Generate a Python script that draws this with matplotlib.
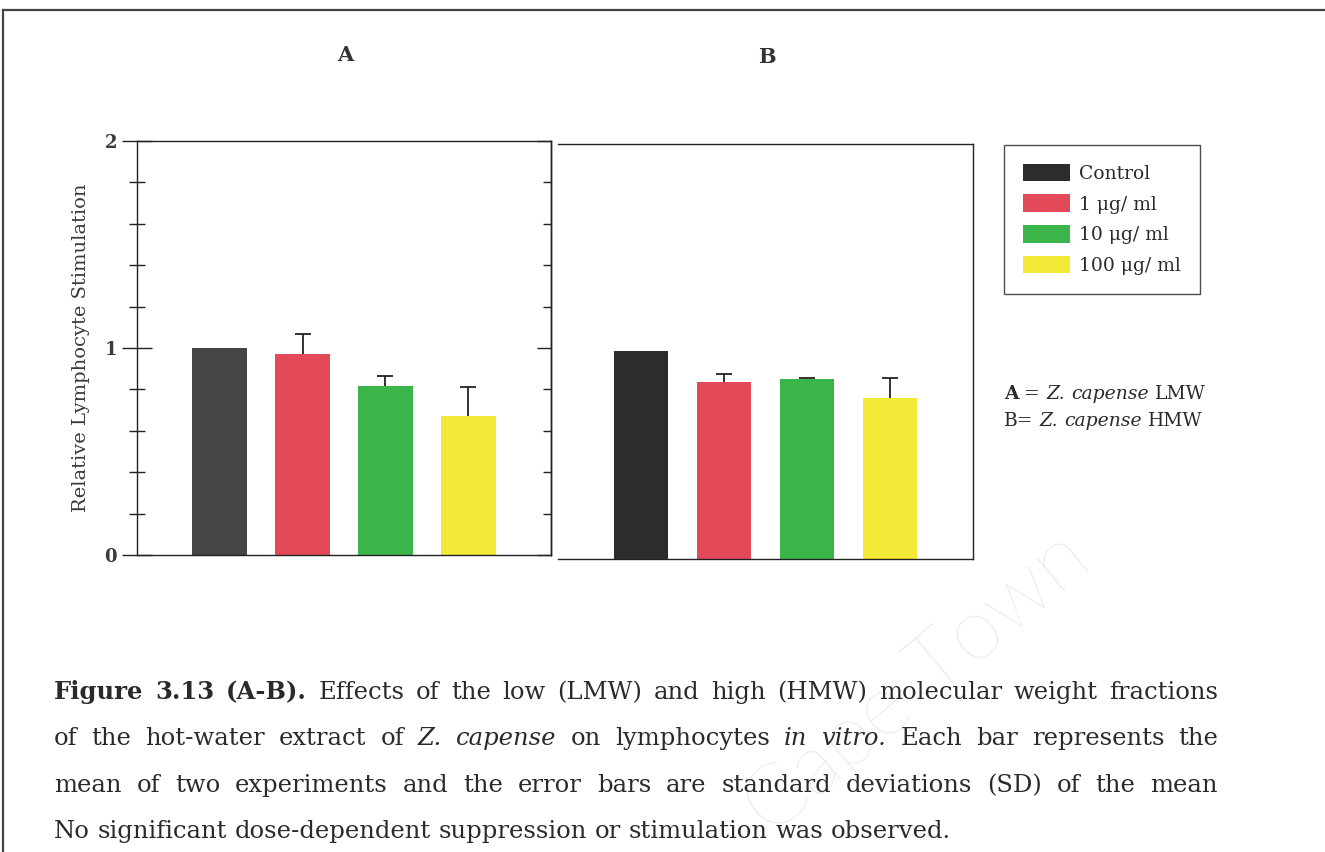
import matplotlib
matplotlib.use("Agg")
import matplotlib.pyplot as plt
from matplotlib.patches import Patch
from matplotlib.lines import Line2D
from matplotlib.ticker import MultipleLocator

# ---------------- data ----------------
categories = ["Control", "1 μg/ ml", "10 μg/ ml", "100 μg/ ml"]
values_A = [1.00, 0.97, 0.815, 0.672]
err_A = [0.0, 0.10, 0.05, 0.14]
values_B = [1.00, 0.85, 0.867, 0.776]
err_B = [0.0, 0.04, 0.005, 0.093]
yticks_major = [0, 1, 2]
panel_titles = ["A", "B"]

# ---------------- style ----------------
bar_colors = ["#454545", "#e4495a", "#3bb54a", "#f3e937"]
control_color_B = "#2c2c2c"
SERIF = ["DejaVu Serif"]
TXT = "#2a2a2a"
W, H = 1325, 852

fig = plt.figure(figsize=(W / 100, H / 100), dpi=100)
renderer = fig.canvas.get_renderer()


def fx(px):
    return px / W


def fy(py):
    return 1 - py / H


axA = fig.add_axes([fx(137), fy(555), fx(551) - fx(137), fy(141) - fy(555)])
axB = fig.add_axes([fx(558), fy(558.5), fx(973) - fx(558), fy(144) - fy(558.5)])

xpos = list(range(len(categories)))

for ax, vals, errs, ctrl in [(axA, values_A, err_A, bar_colors[0]),
                             (axB, values_B, err_B, control_color_B)]:
    cols = [ctrl] + bar_colors[1:]
    ax.bar(xpos, vals, width=0.66, color=cols, edgecolor="none", zorder=2)
    idx = [i for i, e in enumerate(errs) if e > 0]
    _, caps, _ = ax.errorbar([xpos[i] for i in idx], [vals[i] for i in idx],
                             yerr=[[0] * len(idx), [errs[i] for i in idx]],
                             fmt="none", ecolor="#222222", elinewidth=1.3,
                             capsize=5.5, capthick=1.3, zorder=3)
    caps[0].set_visible(False)  # no cap at the bar top
    ax.set_xlim(-1, 4)
    ax.set_ylim(0, 2)
    ax.set_xticks([])
    for s in ax.spines.values():
        s.set_linewidth(1.0)
        s.set_color("#222222")

# panel A ticks
axA.yaxis.set_minor_locator(MultipleLocator(0.2))
axA.set_yticks(yticks_major)
axA.set_yticklabels([str(t) for t in yticks_major], family=SERIF,
                    fontsize=13, fontweight="bold", color="#3a3a3a")
axA.tick_params(axis="y", which="major", direction="inout", length=21,
                width=1.0, pad=4, left=True, right=False, color="#222222")
axA.tick_params(axis="y", which="minor", direction="inout", length=12,
                width=1.0, left=True, right=False, color="#222222")
axA.set_ylabel("Relative Lymphocyte Stimulation", family=SERIF, fontsize=14,
               color="#3a3a3a", labelpad=10)

axB.set_yticks([])
axB.spines["left"].set_visible(False)

axR = axA.secondary_yaxis("right")
axR.yaxis.set_major_locator(MultipleLocator(1))
axR.yaxis.set_minor_locator(MultipleLocator(0.2))
axR.tick_params(axis="y", which="major", direction="in", length=10, width=1.0,
                labelright=False, color="#222222")
axR.tick_params(axis="y", which="minor", direction="in", length=6, width=1.0,
                labelright=False, color="#222222")
axR.spines["right"].set_linewidth(1.0)

# panel titles
fig.text(fx(345), fy(55), panel_titles[0], ha="center", va="center",
         family=SERIF, fontsize=15, fontweight="bold", color="#333333")
fig.text(fx(767), fy(57), panel_titles[1], ha="center", va="center",
         family=SERIF, fontsize=15, fontweight="bold", color="#333333")

# legend
handles = [Patch(facecolor=c, edgecolor="none") for c in
           [control_color_B] + bar_colors[1:]]
leg = fig.legend(handles, categories, loc="upper left",
                 bbox_to_anchor=(fx(1004), fy(145)), frameon=True,
                 fancybox=False, prop={"family": SERIF, "size": 13.5},
                 handlelength=2.5, handleheight=1.05, labelspacing=0.62,
                 borderpad=1.0, handletextpad=0.5, borderaxespad=0)
leg.get_frame().set_edgecolor("#222222")
leg.get_frame().set_linewidth(1.0)
for t in leg.get_texts():
    t.set_color(TXT)


def place_line(runs, x_px, y_px, size, target_px=None):
    """Place styled words on one baseline; justify to target_px if given."""
    words = []
    for s, weight, style in runs:
        for w in s.split():
            t = fig.text(fx(x_px), fy(y_px), w, family=SERIF, fontsize=size,
                         fontweight=weight, fontstyle=style, color=TXT,
                         va="baseline", ha="left")
            words.append(t)
    widths = [t.get_window_extent(renderer).width for t in words]
    space = fig.text(0, 0, "a a", family=SERIF, fontsize=size)
    a = fig.text(0, 0, "aa", family=SERIF, fontsize=size)
    gap = (space.get_window_extent(renderer).width
           - a.get_window_extent(renderer).width)
    space.remove()
    a.remove()
    if target_px is not None and len(words) > 1:
        gap = (target_px - sum(widths)) / (len(words) - 1)
    x = x_px
    for t, w in zip(words, widths):
        t.set_position((fx(x), fy(y_px)))
        x += w + gap


# annotation A/B
ann = 13.5
place_line([("A", "bold", "normal"), ("=", "normal", "normal"),
            ("Z. capense", "normal", "italic"), ("LMW", "normal", "normal")],
           1004, 399, ann)
place_line([("B=", "normal", "normal"), ("Z. capense", "normal", "italic"),
            ("HMW", "normal", "normal")], 1004, 426, ann)

# caption (justified like the reference)
cap_size = 17.5
cap_w = 1218 - 54
place_line([("Figure 3.13 (A-B).", "bold", "normal"),
            ("Effects of the low (LMW) and high (HMW) molecular weight fractions",
             "normal", "normal")], 54, 699, cap_size, cap_w)
place_line([("of the hot-water extract of", "normal", "normal"),
            ("Z. capense", "normal", "italic"),
            ("on lymphocytes", "normal", "normal"),
            ("in vitro.", "normal", "italic"),
            ("Each bar represents the", "normal", "normal")], 54, 745,
           cap_size, cap_w)
place_line([("mean of two experiments and the error bars are standard deviations (SD) of the mean",
             "normal", "normal")], 54, 792, cap_size, cap_w)
place_line([("No significant dose-dependent suppression or stimulation was observed.",
             "normal", "normal")], 54, 838, cap_size)

# watermark
fig.text(fx(918), fy(684), "Cape Town", rotation=40, rotation_mode="anchor",
         ha="center", va="center", fontsize=62, family=["Lato", "DejaVu Sans"],
         fontweight="light", color="#e6e6e6", zorder=-5)

# page frame
for xs, ys in [((3, 1325), (10, 10)), ((3, 3), (10, 852))]:
    fig.add_artist(Line2D([fx(x) for x in xs], [fy(y) for y in ys],
                          transform=fig.transFigure, color="#444444", lw=1.6))

fig.savefig("out.png", dpi=100)
